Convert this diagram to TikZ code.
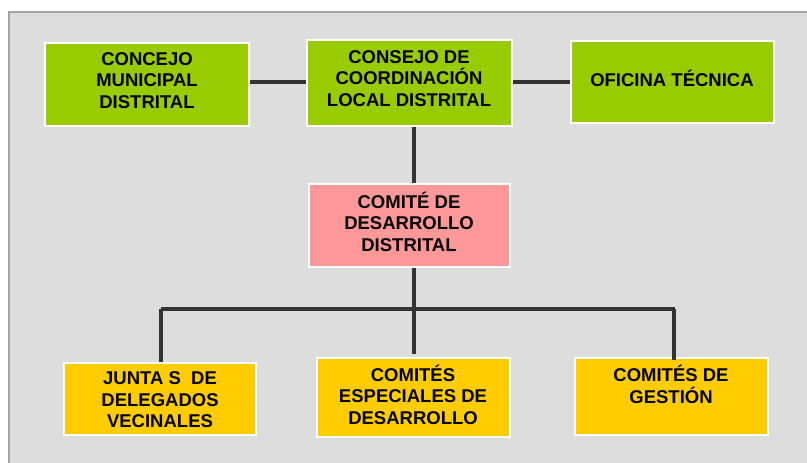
\documentclass[tikz,border=0pt]{standalone}
\usepackage{fontspec}
\setmainfont{Liberation Sans}
\definecolor{panel}{HTML}{DDDDDD}
\definecolor{panelline}{HTML}{A6A6A6}
\definecolor{boxgreen}{HTML}{99CC00}
\definecolor{boxpink}{HTML}{FF9999}
\definecolor{boxyellow}{HTML}{FFCC00}
\definecolor{wire}{HTML}{333333}
\tikzset{
  orgbox/.style={rectangle, draw=white, line width=2pt, inner sep=0pt},
  boxtext/.style={align=center, inner sep=0pt, font=\bfseries\fontsize{18.5}{21.5}\selectfont},
  wireline/.style={draw=wire, line width=3.5pt}
}
\begin{document}
\begin{tikzpicture}[x=1pt,y=-1pt]
\useasboundingbox (0,0) rectangle (807,463);
\clip (0,0) rectangle (807,463);
\fill[white] (0,0) rectangle (807,463);
\filldraw[fill=panel, draw=panelline, line width=1.5pt] (9,12) rectangle (830,490);

% boxes
\node[orgbox, fill=boxgreen, minimum width=204pt, minimum height=83pt] (cm) at (147,84.5) {};
\node[orgbox, fill=boxgreen, minimum width=205pt, minimum height=86pt] (cc) at (409.5,83) {};
\node[orgbox, fill=boxgreen, minimum width=203pt, minimum height=82pt] (ot) at (672.5,82) {};
\node[orgbox, fill=boxpink, minimum width=201pt, minimum height=83pt] (cd) at (409.5,225.5) {};
\node[orgbox, fill=boxyellow, minimum width=192pt, minimum height=72pt] (ja) at (160,399) {};
\node[orgbox, fill=boxyellow, minimum width=193pt, minimum height=79pt] (ce) at (413.5,397.5) {};
\node[orgbox, fill=boxyellow, minimum width=193pt, minimum height=77pt] (cg) at (671.5,396.5) {};

% texts
\node[boxtext] (tcm) at (147,80.5) {CONCEJO\\MUNICIPAL\\DISTRITAL};
\node[boxtext] (tcc) at (409,78.5) {CONSEJO DE\\COORDINACIÓN\\LOCAL DISTRITAL};
\node[boxtext] (tot) at (672,78) {OFICINA TÉCNICA};
\node[boxtext] (tcd) at (409,221.5) {COMITÉ DE\\DESARROLLO\\DISTRITAL};
\node[boxtext] (tja) at (160,400) {JUNTA S\ \ DE\\DELEGADOS\\VECINALES};
\node[boxtext] (tce) at (413,394.5) {COMITÉS\\ESPECIALES DE\\DESARROLLO};
\node[boxtext] (tcg) at (671,384.5) {COMITÉS DE\\GESTIÓN};

% connector helpers
\coordinate (h1) at (0,82);
\coordinate (vx) at (414,0);
\coordinate (bus) at (0,309);
\coordinate (xl) at (161,0);
\coordinate (xr) at (674,0);

\draw[wireline] (cm.east |- h1) -- (cc.west |- h1);
\draw[wireline] (cc.east |- h1) -- (ot.west |- h1);
\draw[wireline] (cc.south -| vx) -- (cd.north -| vx);
\draw[wireline] (cd.south -| vx) -- (vx |- bus);
\draw[wireline] (xl |- bus) -- (675,309);
\draw[wireline] (xl |- ja.north) -- (xl |- bus);
\draw[wireline] (vx |- bus) -- ([yshift=3pt]vx |- ce.north);
\draw[wireline] ([yshift=-3pt]xr |- cg.north) -- (xr |- bus);
\end{tikzpicture}
\end{document}
